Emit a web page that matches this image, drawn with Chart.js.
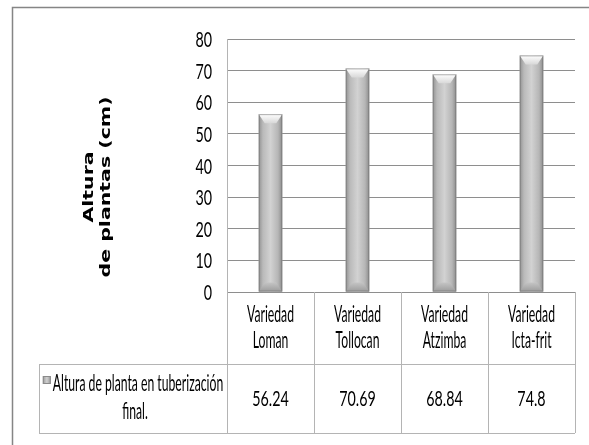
<!DOCTYPE html>
<html>
<head>
<meta charset="utf-8">
<script src="https://cdn.jsdelivr.net/npm/chart.js@4"></script>
<style>
  html, body { margin: 0; padding: 0; background: #fff; }
  canvas { display: block; }
</style>
</head>
<body>
<canvas id="c" width="589" height="445"></canvas>
<script>
// Potato varieties and final plant height at tuber set (cm)
const categories = [
  ['Variedad', 'Loman'],
  ['Variedad', 'Tollocan'],
  ['Variedad', 'Atzimba'],
  ['Variedad', 'Icta-frit']
];
const heights = [56.24, 70.69, 68.84, 74.8];
const seriesLabel = ['Altura de planta en tuberización', 'final.'];
const axisTitle = ['Altura', 'de plantas (cm)'];
const yMin = 0;
const yMax = 80;
const yStep = 10;

// Text is drawn horizontally condensed
const SQ_WORD = 0.53;
const SQ_NUM = 0.65;
const SQ_TITLE = 0.7;
const WORD_FONT = '23px Lato, "Open Sans", sans-serif';
const NUM_FONT = '22px Lato, "Open Sans", sans-serif';
const TITLE_FONT = 'bold 20.5px "DejaVu Sans", sans-serif';
const GRID = '#8e8e8e';
const TABLE_LINE = '#b4b4b4';

function squeezedText(ctx, str, x, y, sx, align, baseline) {
  ctx.save();
  ctx.translate(x, y);
  ctx.scale(sx, 1);
  ctx.textAlign = align || 'center';
  ctx.textBaseline = baseline || 'alphabetic';
  ctx.fillText(str, 0, 0);
  ctx.restore();
}

const decorations = {
  id: 'decorations',
  beforeDraw(chart) {
    const ctx = chart.ctx;
    ctx.save();
    ctx.strokeStyle = '#858585';
    ctx.lineWidth = 1.5;
    ctx.beginPath();
    ctx.moveTo(12.5, chart.height);
    ctx.lineTo(12.5, 7.5);
    ctx.lineTo(chart.width, 7.5);
    ctx.stroke();
    ctx.restore();
  },
  afterDatasetsDraw(chart) {
    // bevelled grey columns
    const ctx = chart.ctx;
    const meta = chart.getDatasetMeta(0);
    ctx.save();
    meta.data.forEach(bar => {
      const { x, y, base, width } = bar.getProps(['x', 'y', 'base', 'width'], true);
      const x0 = x - width / 2, x1 = x + width / 2;
      const body = ctx.createLinearGradient(x0, 0, x1, 0);
      body.addColorStop(0, '#929292');
      body.addColorStop(0.18, '#bababa');
      body.addColorStop(0.5, '#d2d2d2');
      body.addColorStop(0.82, '#b6b6b6');
      body.addColorStop(1, '#8c8c8c');
      ctx.fillStyle = body;
      ctx.fillRect(x0, y, width, base - y);

      const bh = 9, bs = 6;
      const top = ctx.createLinearGradient(0, y, 0, y + bh);
      top.addColorStop(0, '#ffffff');
      top.addColorStop(1, '#d8d8d8');
      ctx.fillStyle = top;
      ctx.beginPath();
      ctx.moveTo(x0, y);
      ctx.lineTo(x1, y);
      ctx.lineTo(x1 - bs, y + bh);
      ctx.lineTo(x0 + bs, y + bh);
      ctx.closePath();
      ctx.fill();

      const bot = ctx.createLinearGradient(0, base - bh, 0, base);
      bot.addColorStop(0, '#c4c4c4');
      bot.addColorStop(1, '#9c9c9c');
      ctx.fillStyle = bot;
      ctx.beginPath();
      ctx.moveTo(x0 + bs, base - bh);
      ctx.lineTo(x1 - bs, base - bh);
      ctx.lineTo(x1, base);
      ctx.lineTo(x0, base);
      ctx.closePath();
      ctx.fill();

      ctx.strokeStyle = 'rgba(110,110,110,0.5)';
      ctx.lineWidth = 1;
      ctx.strokeRect(x0 + 0.5, y + 0.5, width - 1, base - y - 1);
    });
    ctx.restore();
  },
  afterDraw(chart) {
    const ctx = chart.ctx;
    const area = chart.chartArea;
    const yScale = chart.scales.y;
    ctx.save();
    ctx.fillStyle = '#000';
    ctx.font = NUM_FONT;

    // value axis labels
    yScale.ticks.forEach(t => {
      squeezedText(ctx, String(t.value), area.left - 15, yScale.getPixelForValue(t.value) + 1, SQ_NUM, 'right', 'middle');
    });

    // rotated axis title
    ctx.font = TITLE_FONT;
    const titleBase = [93, 110];
    axisTitle.forEach((line, i) => {
      ctx.save();
      ctx.translate(titleBase[i], 187);
      ctx.scale(SQ_TITLE, 1);
      ctx.rotate(-Math.PI / 2);
      ctx.textAlign = 'center';
      ctx.textBaseline = 'alphabetic';
      ctx.fillText(line, 0, 0);
      ctx.restore();
    });

    // data table under the plot
    const n = categories.length;
    const colW = (area.right - area.left) / n;
    const tTop = area.bottom;
    const rowMid = tTop + 72;
    const tBot = rowMid + 69;
    const legL = 39;

    ctx.strokeStyle = TABLE_LINE;
    ctx.lineWidth = 1;
    ctx.beginPath();
    for (let i = 0; i <= n; i++) {
      const xx = Math.round(area.left + i * colW) + 0.5;
      ctx.moveTo(xx, tTop);
      ctx.lineTo(xx, tBot);
    }
    ctx.moveTo(legL + 0.5, rowMid);
    ctx.lineTo(legL + 0.5, tBot);
    ctx.moveTo(legL, rowMid + 0.5);
    ctx.lineTo(area.right, rowMid + 0.5);
    ctx.moveTo(legL, tBot + 0.5);
    ctx.lineTo(area.right, tBot + 0.5);
    ctx.stroke();

    ctx.fillStyle = '#000';
    categories.forEach((lines, i) => {
      const cx = area.left + (i + 0.5) * colW;
      ctx.font = WORD_FONT;
      squeezedText(ctx, lines[0], cx, tTop + 30, SQ_WORD);
      squeezedText(ctx, lines[1], cx, tTop + 56, SQ_WORD);
      ctx.font = NUM_FONT;
      squeezedText(ctx, String(heights[i]), cx, rowMid + 42, SQ_NUM);
    });

    // series key and name
    ctx.font = WORD_FONT;
    const cellC = (legL + area.left) / 2;
    const tw = ctx.measureText(seriesLabel[0]).width * SQ_WORD;
    const keyW = 8, gap = 2;
    const startX = cellC - (keyW + gap + tw) / 2;
    const kg = ctx.createLinearGradient(startX, 0, startX + keyW, 0);
    kg.addColorStop(0, '#9a9a9a');
    kg.addColorStop(0.5, '#d0d0d0');
    kg.addColorStop(1, '#9a9a9a');
    ctx.fillStyle = kg;
    ctx.fillRect(startX, rowMid + 12, keyW, 8);
    ctx.strokeStyle = '#8a8a8a';
    ctx.strokeRect(startX + 0.5, rowMid + 12.5, keyW - 1, 7);
    ctx.fillStyle = '#000';
    squeezedText(ctx, seriesLabel[0], startX + keyW + gap, rowMid + 27, SQ_WORD, 'left');
    squeezedText(ctx, seriesLabel[1], cellC + 2, rowMid + 55, SQ_WORD, 'center');
    ctx.restore();
  }
};

new Chart(document.getElementById('c'), {
  type: 'bar',
  data: {
    labels: categories,
    datasets: [{
      label: seriesLabel.join(' '),
      data: heights,
      backgroundColor: '#bdbdbd',
      borderWidth: 0,
      categoryPercentage: 1,
      barPercentage: 0.27
    }]
  },
  options: {
    responsive: false,
    animation: false,
    layout: { padding: { left: 227, top: 39, right: 14, bottom: 153 } },
    plugins: { legend: { display: false }, tooltip: { enabled: false } },
    scales: {
      x: { display: false },
      y: {
        min: yMin,
        max: yMax,
        ticks: { stepSize: yStep, display: false },
        grid: { color: GRID, lineWidth: 1, drawTicks: false },
        border: { display: true, color: TABLE_LINE }
      }
    }
  },
  plugins: [decorations]
});
</script>
</body>
</html>
